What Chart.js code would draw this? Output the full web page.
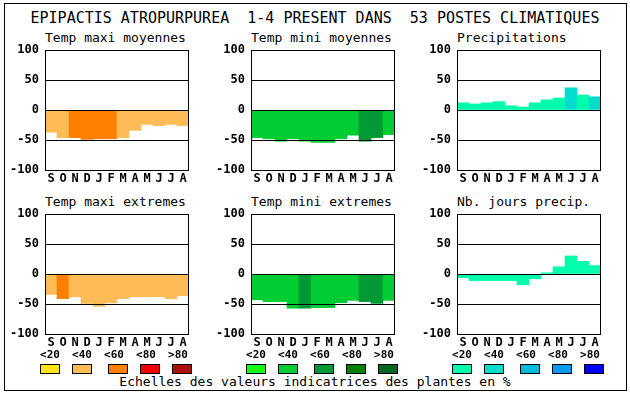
<!DOCTYPE html>
<html>
<head>
<meta charset="utf-8">
<script src="https://cdn.jsdelivr.net/npm/chart.js@4.4.0/dist/chart.umd.min.js"></script>
<style>
  body { margin: 0; background: #fff; }
  #page { position: relative; width: 630px; height: 394px; overflow: hidden; font-family: "DejaVu Sans Mono", monospace; color: #000; }
  #frame { position: absolute; left: 4px; top: 3px; width: 621px; height: 386px; border: 1px solid #000; }
  .title { position: absolute; left: 0; width: 630px; top: 9px; text-align: center; font-size: 15px; line-height: 18px; white-space: pre; }
  .ptitle { position: absolute; font-size: 13px; line-height: 16px; white-space: pre; }
  canvas.panel { position: absolute; }
  .lab { position: absolute; font-size: 11px; font-weight: bold; line-height: 12px; width: 24px; text-align: center; }
  .sq { position: absolute; width: 18px; height: 8px; border: 1px solid #000; }
  .foot { position: absolute; left: 0; width: 630px; top: 374px; text-align: center; font-size: 13px; line-height: 16px; white-space: pre; }
</style>
</head>
<body>
<div id="page">
  <div id="frame"></div>
  <div class="title">EPIPACTIS ATROPURPUREA  1-4 PRESENT DANS  53 POSTES CLIMATIQUES</div>
  <div class="foot">Echelles des valeurs indicatrices des plantes en %</div>
</div>
<script>
const months = ['S', 'O', 'N', 'D', 'J', 'F', 'M', 'A', 'M', 'J', 'J', 'A'];
const yTickValues = [100, 50, 0, -50, -100];
const classLabels = ['<20', '<40', '<60', '<80', '>80'];

const orangeScale = ['#FFE41A', '#FFBB55', '#FF8000', '#EE0000', '#AA1100'];
const greenScale = ['#11FF11', '#00CC33', '#009933', '#007F00', '#006622'];
const blueScale = ['#00FFAA', '#00DDCC', '#00BBDD', '#0099EE', '#0000FF'];

const tempMaxiMoy = [-37, -46, -46, -49, -48, -48, -46, -34, -24, -26, -24, -26];
const tempMaxiMoyClass = [1, 1, 2, 2, 2, 2, 1, 1, 1, 1, 1, 1];
const tempMiniMoy = [-46, -48, -52, -48, -52, -54, -54, -48, -42, -52, -46, -41];
const tempMiniMoyClass = [1, 1, 1, 1, 1, 1, 1, 1, 1, 2, 2, 1];
const precip = [12, 10, 12, 14, 7, 5, 12, 17, 20, 37, 25, 22];
const precipClass = [0, 0, 0, 0, 0, 0, 0, 0, 0, 1, 0, 1];
const tempMaxiExt = [-34, -41, -38, -49, -54, -48, -41, -38, -38, -38, -41, -36];
const tempMaxiExtClass = [1, 2, 1, 1, 1, 1, 1, 1, 1, 1, 1, 1];
const tempMiniExt = [-43, -46, -46, -57, -57, -56, -56, -48, -44, -46, -49, -44];
const tempMiniExtClass = [1, 1, 1, 1, 2, 1, 1, 1, 1, 2, 2, 1];
const nbJoursPrecip = [-6, -11, -11, -11, -11, -18, -8, 2, 12, 30, 21, 14];
const nbJoursPrecipClass = [0, 0, 0, 0, 0, 0, 0, 0, 0, 0, 0, 0];

// plot area top-left of each panel on the page
const panels = [
    { title: 'Temp maxi moyennes', data: tempMaxiMoy, cls: tempMaxiMoyClass, scale: orangeScale, x: 45, y: 50 },
    { title: 'Temp mini moyennes', data: tempMiniMoy, cls: tempMiniMoyClass, scale: greenScale, x: 251, y: 50 },
    { title: 'Precipitations', data: precip, cls: precipClass, scale: blueScale, x: 457, y: 50 },
    { title: 'Temp maxi extremes', data: tempMaxiExt, cls: tempMaxiExtClass, scale: orangeScale, x: 45, y: 214 },
    { title: 'Temp mini extremes', data: tempMiniExt, cls: tempMiniExtClass, scale: greenScale, x: 251, y: 214 },
    { title: 'Nb. jours precip.', data: nbJoursPrecip, cls: nbJoursPrecipClass, scale: blueScale, x: 457, y: 214 }
];

const AXIS_W = 40, PAD_TOP = 8, PAD_RIGHT = 4, XAXIS_H = 20;
const PLOT_W = 144, PLOT_H = 120;

// box around the plot area
const framePlugin = {
    id: 'frame',
    afterDraw(chart) {
        const a = chart.chartArea, ctx = chart.ctx;
        ctx.save();
        ctx.strokeStyle = '#000';
        ctx.lineWidth = 1;
        ctx.strokeRect(Math.round(a.left) + 0.5, Math.round(a.top) + 0.5, Math.round(a.right - a.left) - 1, Math.round(a.bottom - a.top));
        ctx.restore();
    }
};

function createChartConfig(p) {
    return {
        type: 'bar',
        data: {
            labels: months,
            datasets: [{
                data: p.data,
                backgroundColor: p.cls.map(c => p.scale[c]),
                borderWidth: 0,
                categoryPercentage: 1,
                barPercentage: 1
            }]
        },
        options: {
            animation: false,
            responsive: false,
            maintainAspectRatio: false,
            layout: { padding: { top: PAD_TOP, right: PAD_RIGHT, left: 0, bottom: 0 } },
            plugins: { legend: { display: false }, tooltip: { enabled: false } },
            scales: {
                x: {
                    grid: { display: false, drawTicks: false },
                    border: { display: false },
                    afterFit: s => { s.height = XAXIS_H; },
                    ticks: {
                        color: '#000', padding: 3, maxRotation: 0, autoSkip: false,
                        font: { family: 'DejaVu Sans Mono', size: 12, weight: 'bold', lineHeight: 1 }
                    }
                },
                y: {
                    min: -100,
                    max: 100,
                    afterFit: s => { s.width = AXIS_W; },
                    afterBuildTicks: s => { s.ticks = yTickValues.map(v => ({ value: v })); },
                    grid: { color: '#000', lineWidth: 1, drawTicks: false, z: 1 },
                    border: { display: false },
                    ticks: {
                        color: '#000', padding: 6,
                        font: { family: 'DejaVu Sans Mono', size: 12, weight: 'bold', lineHeight: 1 }
                    }
                }
            }
        },
        plugins: [framePlugin]
    };
}

const page = document.getElementById('page');

panels.forEach(p => {
    const t = document.createElement('div');
    t.className = 'ptitle';
    t.style.left = p.x + 'px';
    t.style.top = (p.y - 20) + 'px';
    t.textContent = p.title;
    page.appendChild(t);

    const c = document.createElement('canvas');
    c.className = 'panel';
    const w = AXIS_W + PLOT_W + PAD_RIGHT;
    c.width = w;
    c.height = PAD_TOP + PLOT_H + XAXIS_H;
    page.appendChild(c);

    // first pass to see how much room chart.js keeps above the plot
    let chart = new Chart(c, createChartConfig(p));
    const topOff = chart.chartArea.top;
    const botOff = c.height - chart.chartArea.bottom;
    chart.destroy();

    c.width = w;
    c.height = topOff + PLOT_H + botOff;
    chart = new Chart(c, createChartConfig(p));
    c.style.left = (p.x - chart.chartArea.left) + 'px';
    c.style.top = (p.y - chart.chartArea.top) + 'px';
});

// colour class legends under each column
const labelX = [38, 70, 102, 134, 166];
const squareX = [40, 72, 108, 140, 172];
[orangeScale, greenScale, blueScale].forEach((scale, g) => {
    const off = g * 206;
    classLabels.forEach((txt, i) => {
        const l = document.createElement('div');
        l.className = 'lab';
        l.style.left = (labelX[i] + off) + 'px';
        l.style.top = '349px';
        l.textContent = txt;
        page.appendChild(l);

        const s = document.createElement('div');
        s.className = 'sq';
        s.style.left = (squareX[i] + off) + 'px';
        s.style.top = '364px';
        s.style.background = scale[i];
        page.appendChild(s);
    });
});
</script>
</body>
</html>
